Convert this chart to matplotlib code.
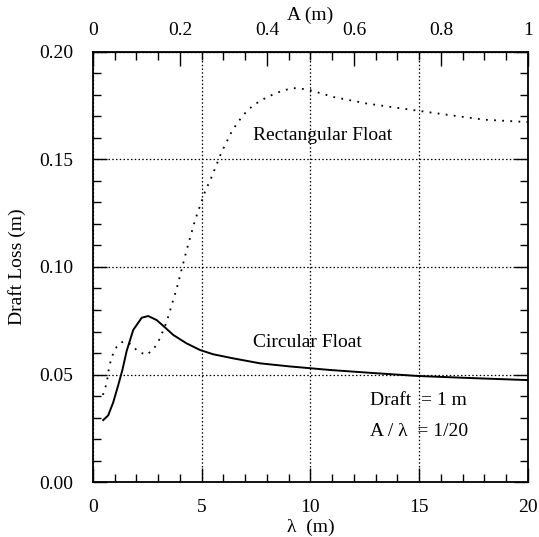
import matplotlib
matplotlib.use("Agg")
import matplotlib.pyplot as plt
from matplotlib.ticker import MultipleLocator, FuncFormatter

# wavelength (m) and draft loss (m)
lam_rect = [0.46, 0.63, 0.75, 0.9, 1.09, 1.3, 1.55, 1.8, 2.08, 2.47, 2.8, 3.08,
            3.39, 3.85, 4.31, 4.7, 5.15, 5.46, 5.92, 6.38, 6.68, 6.99, 7.37,
            8.0, 8.7, 9.2, 9.54, 10.0, 11.08, 12.6, 15.0, 16.5, 18.0, 20.0]
loss_rect = [0.0405, 0.046, 0.054, 0.059, 0.0629, 0.065, 0.0653, 0.0635, 0.0606,
             0.0591, 0.062, 0.0668, 0.0746, 0.090, 0.108, 0.122, 0.135, 0.142,
             0.1536, 0.163, 0.1676, 0.1715, 0.1753, 0.179, 0.182, 0.1832, 0.183,
             0.1822, 0.179, 0.176, 0.1726, 0.1705, 0.1685, 0.1674]

lam_circ = [0.47, 0.7, 0.93, 1.16, 1.35, 1.55, 1.85, 2.24, 2.54, 2.93, 3.3, 3.69,
            4.3, 4.92, 5.53, 6.45, 7.68, 9.0, 10.9, 13.0, 14.96, 17.5, 20.0]
loss_circ = [0.0288, 0.031, 0.037, 0.045, 0.052, 0.061, 0.0707, 0.0764, 0.0772,
             0.0753, 0.072, 0.0684, 0.0645, 0.0614, 0.0594, 0.0575, 0.0552,
             0.0538, 0.0521, 0.0506, 0.0493, 0.0483, 0.0474]

x_ticks = [0, 5, 10, 15, 20]
y_ticks = [0.0, 0.05, 0.10, 0.15, 0.20]

plt.rcParams['font.family'] = ['Liberation Serif', 'DejaVu Serif']
plt.rcParams['font.size'] = 14

fig = plt.figure(figsize=(5.39, 5.37), dpi=100)
ax = fig.add_axes([0.1725, 0.1024, 0.807, 0.8008])

ax.plot(lam_rect, loss_rect, color='black', lw=1.3, linestyle=(0, (1, 3.5)))
ax.plot(lam_circ, loss_circ, color='black', lw=1.4)

ax.set_xlim(0, 20)
ax.set_ylim(0, 0.20)
ax.set_xticks(x_ticks)
ax.set_yticks(y_ticks)
ax.xaxis.set_minor_locator(MultipleLocator(1))
ax.yaxis.set_minor_locator(MultipleLocator(0.01))
ax.yaxis.set_major_formatter(FuncFormatter(lambda v, p: f"{v:.2f}"))

ax.grid(True, which='major', color='black', lw=0.9, linestyle=(0, (1.2, 1.8)))

for s in ax.spines.values():
    s.set_linewidth(1.3)

ax.tick_params(which='both', direction='in', right=True, top=False, width=1.0)
ax.tick_params(which='major', length=10)
ax.tick_params(which='minor', length=6)
ax.tick_params(axis='x', which='major', pad=12)
ax.tick_params(axis='y', which='major', pad=14)

top = ax.secondary_xaxis('top', functions=(lambda x: x / 20, lambda a: a * 20))
top.set_xticks([0, 0.2, 0.4, 0.6, 0.8, 1.0])
top.xaxis.set_minor_locator(MultipleLocator(0.05))
top.xaxis.set_major_formatter(FuncFormatter(lambda v, p: f"{v:g}"))
top.tick_params(which='both', direction='in', width=1.0, pad=9)
top.tick_params(which='major', length=10)
top.tick_params(which='minor', length=6)
top.set_xlabel('A (m)', labelpad=2)

ax.set_xlabel('λ  (m)', labelpad=2)
ax.set_ylabel('Draft Loss (m)', labelpad=10)

ax.text(10.57, 0.161, 'Rectangular Float', ha='center', va='center')
ax.text(9.85, 0.0647, 'Circular Float', ha='center', va='center')
ax.text(12.74, 0.0378, 'Draft  = 1 m', ha='left', va='center')
ax.text(12.74, 0.0237, 'A / λ  = 1/20', ha='left', va='center')

fig.savefig('out.png', dpi=100)
